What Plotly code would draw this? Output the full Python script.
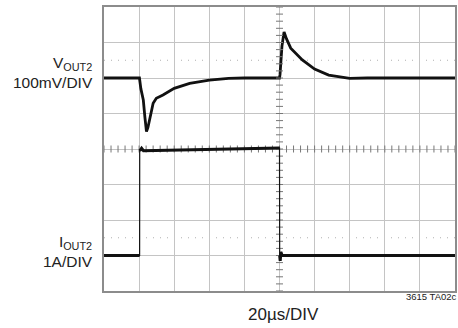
import numpy as np
import plotly.graph_objects as go

# Time base: 20 µs/div, 10 divisions
t_v_us = [0, 20.2, 21.0, 22.4, 23.3, 24.2, 25.0, 26.0, 28.0, 29.8, 33.6, 40.0, 48.8, 60.0, 71.0,
          80.0, 100.0, 100.3, 101.4, 102.6, 104.0, 106.4, 110.0, 113.0, 120.0, 128.0, 140.0, 150.0, 200.0]
# Output voltage deviation (mV), 100 mV/div
v_out_mv = [0, 0, -30, -62, -110, -151, -140, -118, -71, -57, -48, -29, -15, -6, -1,
            0, 0, 10, 90, 130, 110, 84, 66, 51, 25, 8, -1, 0, 0]

# Load current (A), 1 A/div
t_i_us = [0, 20.3, 20.35, 21.4, 22.5, 60.0, 100.0, 100.1, 100.4, 100.8, 101.5, 200.0]
i_out_a = [1.0, 1.0, 3.95, 4.02, 3.95, 3.99, 4.03, 1.0, 0.85, 1.1, 1.0, 1.0]

# Scope screen reference markers
v_marker_mv = 50
i_marker_a = 1.5

GRID = "#c4c4c4"
FRAME = "#8c8c8c"
TRACE = "#111111"


def split_edges(xs, ys, jump):
    """Break a series at fast edges so flat parts can be drawn heavier."""
    ox, oy = [xs[0]], [ys[0]]
    for i in range(1, len(xs)):
        if abs(ys[i] - ys[i - 1]) > jump:
            ox.append(None)
            oy.append(None)
        ox.append(xs[i])
        oy.append(ys[i])
    return ox, oy


fig = go.Figure()

fig.add_trace(go.Scatter(x=t_v_us, y=v_out_mv, mode="lines",
                         line=dict(color=TRACE, width=2.8), yaxis="y", hoverinfo="skip"))

# current: thin edges, heavier (noisy) flat levels
fig.add_trace(go.Scatter(x=t_i_us, y=i_out_a, mode="lines",
                         line=dict(color=TRACE, width=1.2), yaxis="y2", hoverinfo="skip"))
ix, iy = split_edges(t_i_us, i_out_a, 1.0)
fig.add_trace(go.Scatter(x=ix, y=iy, mode="lines", connectgaps=False,
                         line=dict(color=TRACE, width=3), yaxis="y2", hoverinfo="skip"))

# Minor ticks along the centre crosshair
tx = np.arange(0, 200.01, 4)
fig.add_trace(go.Scatter(x=tx, y=[-200] * len(tx), mode="markers",
                         marker=dict(symbol="line-ns", size=5, line=dict(color="#777", width=1)),
                         hoverinfo="skip"))
ty = np.arange(-600, 200.01, 20)
fig.add_trace(go.Scatter(x=[100] * len(ty), y=ty, mode="markers",
                         marker=dict(symbol="line-ew", size=5, line=dict(color="#777", width=1)),
                         hoverinfo="skip"))

# Dotted reference markers
fig.add_shape(type="line", xref="x", yref="y", x0=0, x1=200, y0=v_marker_mv, y1=v_marker_mv,
              line=dict(color="#b0b0b0", width=1, dash="1px,6px"), layer="below")
fig.add_shape(type="line", xref="x", yref="y2", x0=0, x1=200, y0=i_marker_a, y1=i_marker_a,
              line=dict(color="#b0b0b0", width=1, dash="1px,6px"), layer="below")

FONT = "Liberation Sans, Arial, sans-serif"

fig.update_layout(
    width=458, height=328,
    margin=dict(l=104, r=1, t=7, b=37),
    paper_bgcolor="white", plot_bgcolor="white",
    showlegend=False,
    font=dict(family=FONT, color="#222"),
    xaxis=dict(range=[0, 200], dtick=20, showgrid=True, gridcolor=GRID, gridwidth=1,
               showticklabels=False, ticks="", zeroline=False,
               showline=True, mirror=True, linecolor=FRAME, linewidth=1.5),
    yaxis=dict(range=[-600, 200], dtick=100, showgrid=True, gridcolor=GRID, gridwidth=1,
               showticklabels=False, ticks="", zeroline=False,
               showline=True, mirror=True, linecolor=FRAME, linewidth=1.5),
    yaxis2=dict(range=[0, 8], overlaying="y", visible=False),
)


def label(text, px_right, px_mid, size):
    fig.add_annotation(text=text, xref="paper", yref="paper",
                       x=(px_right - 104) / 353, y=(291 - px_mid) / 284,
                       xanchor="right", yanchor="middle", align="right", showarrow=False,
                       font=dict(size=size, family=FONT, color="#222"))


label("V<sub>OUT2</sub><br>100mV/DIV", 95, 72, 15.5)
label("I<sub>OUT2</sub><br>1A/DIV", 95, 251, 15.5)

fig.add_annotation(text="20µs/DIV", xref="paper", yref="paper",
                   x=(285 - 104) / 353, y=(291 - 314) / 284,
                   xanchor="center", yanchor="middle", showarrow=False,
                   font=dict(size=17, family=FONT, color="#222"))
fig.add_annotation(text="3615 TA02c", xref="paper", yref="paper",
                   x=(461 - 104) / 353, y=(291 - 296) / 284,
                   xanchor="right", yanchor="middle", showarrow=False,
                   font=dict(size=9.5, family=FONT, color="#222"))

fig.write_html("out.html")
